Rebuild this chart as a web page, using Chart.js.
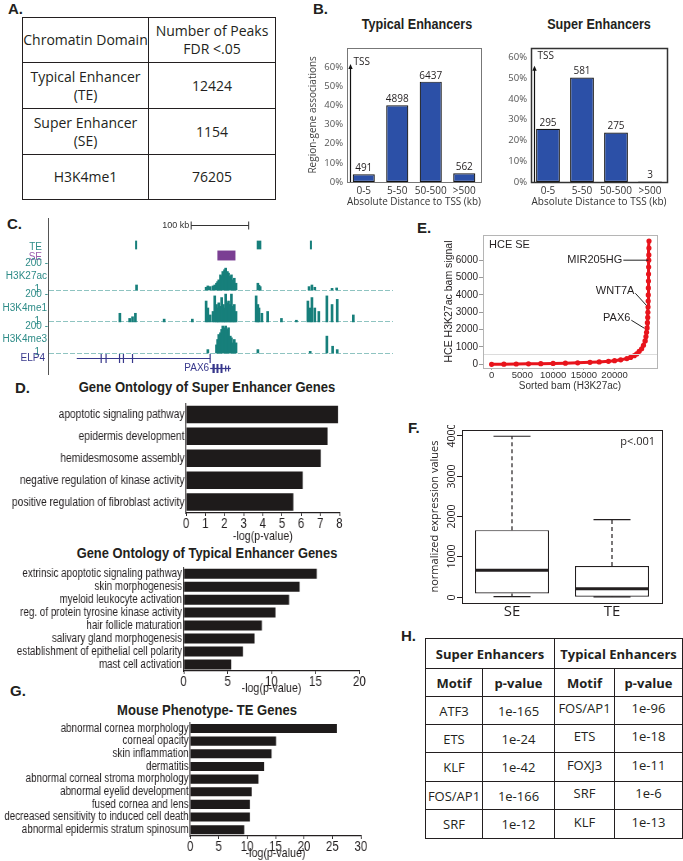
<!DOCTYPE html>
<html>
<head>
<meta charset="utf-8">
<title>Super enhancer figure</title>
<script src="https://cdn.jsdelivr.net/npm/chart.js@4.4.1/dist/chart.umd.min.js"></script>
<style>
  html, body { margin: 0; padding: 0; background: #fff; }
  body { position: relative; width: 683px; height: 861px; overflow: hidden; color: #231f20; }
  canvas { position: absolute; }
  canvas.narrow { transform: scaleX(0.82); transform-origin: 0 0; }
  .panel { position: absolute; font: bold 15px "Liberation Sans", Arial, sans-serif; line-height: 15px; }
  .title { position: absolute; white-space: nowrap;
           font: bold 15px "Liberation Sans", Arial, sans-serif; line-height: 1; }
  table { position: absolute; border-collapse: collapse; table-layout: fixed; }
  td { border: 1.5px solid #231f20; text-align: center; vertical-align: middle; padding: 0; white-space: nowrap; }
  #tableA td { font: 14px "Open Sans", sans-serif; line-height: 18px; }
  #tableH td { font: 13px "Open Sans", sans-serif; }
  #tableH tr.head td { font-weight: bold; }
</style>
</head>
<body>
<div class="panel" style="left:8px; top:1px">A.</div>
<div class="panel" style="left:313px; top:1px">B.</div>
<div class="panel" style="left:7px; top:216px">C.</div>
<div class="panel" style="left:15px; top:380px">D.</div>
<div class="panel" style="left:417px; top:220px">E.</div>
<div class="panel" style="left:408px; top:420px">F.</div>
<div class="panel" style="left:10px; top:683px">G.</div>
<div class="panel" style="left:401px; top:628px">H.</div>

<div class="title" style="left:417px; top:24px; font-size:14px; transform:translate(-50%,-50%) scaleX(0.9)">Typical Enhancers</div>
<div class="title" style="left:599px; top:24px; font-size:14px; transform:translate(-50%,-50%) scaleX(0.9)">Super Enhancers</div>
<div class="title" style="left:207px; top:386px; transform:translate(-50%,-50%) scaleX(0.87)">Gene Ontology of Super Enhancer Genes</div>
<div class="title" style="left:207px; top:552px; transform:translate(-50%,-50%) scaleX(0.86)">Gene Ontology of Typical Enhancer Genes</div>
<div class="title" style="left:207px; top:709px; transform:translate(-50%,-50%) scaleX(0.87)">Mouse Phenotype- TE Genes</div>

<table id="tableA" style="left:22px; top:17px; width:253px; height:182px"></table>
<table id="tableH" style="left:425px; top:638px; width:257px; height:200px"></table>

<canvas id="chartB1" width="188" height="170" style="left:300px; top:38px"></canvas>
<canvas id="chartB2" width="175" height="170" style="left:500px; top:38px"></canvas>
<canvas id="chartC" width="395" height="160" style="left:0px; top:215px"></canvas>
<canvas id="chartE" width="225" height="168" style="left:440px; top:228px"></canvas>
<canvas id="chartD1" class="narrow" width="421" height="150" style="left:0px; top:394px"></canvas>
<canvas id="chartD2" class="narrow" width="446" height="138" style="left:0px; top:558px"></canvas>
<canvas id="chartF" width="255" height="200" style="left:420px; top:425px"></canvas>
<canvas id="chartG" class="narrow" width="448" height="148" style="left:0px; top:713px"></canvas>

<script>
// ---------------- data ----------------
// A. peak counts
const domainRows = [['Typical Enhancer', '(TE)'], ['Super Enhancer', '(SE)'], ['H3K4me1']];
const domainPeaks = [12424, 1154, 76205];

// B. distance to TSS
const distanceBins = ['0-5', '5-50', '50-500', '>500'];
const typicalPct = [4.0, 40.0, 52.3, 4.5];
const typicalCounts = [491, 4898, 6437, 562];
const superPct = [25.6, 50.3, 23.8, 0.3];
const superCounts = [295, 581, 275, 3];
const pctTicks = [0, 10, 20, 30, 40, 50, 60];

// C. genome browser around PAX6 (positions in kb, signal 0-200)
const teRegions = [[101.5, 104.5], [313, 321], [405.5, 409]];
const seRegions = [[244.6, 276]];
const k27acKb  = [104, 225, 228, 232, 237, 240, 243, 245, 247, 250, 252, 254, 257, 259, 262, 264, 267, 269, 272, 274, 277, 315, 317, 319, 404, 409, 414, 444, 452];
const k27acVal = [37, 20, 30, 25, 30, 37, 50, 62, 75, 112, 100, 137, 150, 162, 137, 125, 100, 112, 75, 87, 50, 50, 35, 25, 25, 37, 20, 12, 15];
const me1Kb  = [75, 92, 97, 102, 152, 201, 225, 228, 232, 237, 240, 243, 245, 247, 250, 252, 255, 257, 259, 262, 264, 267, 269, 272, 274, 277, 312, 315, 317, 322, 332, 356, 382, 402, 406, 409, 414, 421, 435, 444, 453, 481];
const me1Val = [62, 25, 37, 62, 20, 20, 150, 100, 50, 75, 187, 125, 100, 137, 112, 175, 125, 100, 200, 137, 150, 125, 200, 112, 125, 75, 187, 125, 100, 62, 75, 25, 12, 150, 100, 175, 100, 75, 187, 125, 162, 50];
const me3Kb  = [228, 243, 245, 247, 250, 252, 254, 257, 259, 262, 264, 267, 269, 272, 274, 277, 315, 406, 435, 445, 453];
const me3Val = [25, 60, 100, 137, 150, 175, 200, 187, 200, 175, 187, 125, 112, 75, 100, 75, 25, 12, 125, 50, 25];
const elp4Span = [0, 232];
const elp4Exons = [42.5, 51, 74.4, 81.2, 97, 232];
const pax6Span = [232, 268];
const pax6Exons = [[236, 240], [243, 246], [250, 253]];
const pax6Ticks = [259, 264];
const scaleBarKb = [199, 299];

// D. gene ontology
const seGoTerms = ['apoptotic signaling pathway', 'epidermis development', 'hemidesmosome assembly',
  'negative regulation of kinase activity', 'positive regulation of fibroblast activity'];
const seGoLogP = [7.92, 7.38, 7.02, 6.08, 5.59];
const teGoTerms = ['extrinsic apoptotic signaling pathway', 'skin morphogenesis', 'myeloid leukocyte activation',
  'reg. of protein tyrosine kinase activity', 'hair follicle maturation', 'salivary gland morphogenesis',
  'establishment of epithelial cell polarity', 'mast cell activation'];
const teGoLogP = [15.15, 13.2, 12.0, 10.45, 8.9, 8.07, 6.74, 5.42];

// E. super enhancer ranking
const seRank = [0, 2000, 4000, 6000, 8000, 10000, 12000, 14000, 16000, 17500, 19000, 20000, 21000, 22000, 22600,
  23200, 23600, 24000, 24400, 24700, 24950, 25100, 25200, 25280, 25340, 25390, 25420, 25445, 25465, 25480,
  25495, 25510, 25525, 25540, 25555, 25570, 25585, 25600];
const seSignal = [0, 10, 20, 30, 40, 55, 70, 90, 115, 140, 175, 210, 260, 330, 400,
  500, 600, 750, 900, 1100, 1350, 1600, 1850, 2100, 2400, 2700, 3000, 3300, 3650, 4000,
  4400, 4800, 5200, 5600, 6000, 6300, 6700, 7100];
const rankTicks = [0, 5000, 10000, 15000, 20000];
const signalTicks = [0, 1000, 2000, 3000, 4000, 5000, 6000];
const seCutoff = 580;
const seGeneNames = ['MIR205HG', 'WNT7A', 'PAX6'];
const seGeneRank = [25490, 25170, 24840];
const seGeneSignal = [6000, 3400, 2080];

// F. expression box plot
const exprGroups = ['SE', 'TE'];
const exprMin = [10, 0];
const exprQ1 = [85, 5];
const exprMedian = [660, 205];
const exprQ3 = [1650, 765];
const exprMax = [3970, 1910];
const exprTicks = [0, 1000, 2000, 3000, 4000];

// G. mouse phenotype
const tePhenoTerms = ['abnormal cornea morphology', 'corneal opacity', 'skin inflammation', 'dermatitis',
  'abnormal corneal stroma morphology', 'abnormal eyelid development', 'fused cornea and lens',
  'decreased sensitivity to induced cell death', 'abnormal epidermis stratum spinosum'];
const tePhenoLogP = [25.8, 15.1, 14.3, 13.0, 12.0, 10.8, 10.5, 10.5, 9.5];

// H. motifs
const seMotifs = ['ATF3', 'ETS', 'KLF', 'FOS/AP1', 'SRF'];
const seMotifP = ['1e-165', '1e-24', '1e-42', '1e-166', '1e-12'];
const teMotifs = ['FOS/AP1', 'ETS', 'FOXJ3', 'SRF', 'KLF'];
const teMotifP = ['1e-96', '1e-18', '1e-11', '1e-6', '1e-13'];

// ---------------- setup ----------------
const FONT = '"Liberation Sans", Arial, sans-serif';
const FONT_REG = '"Open Sans", "Liberation Sans", sans-serif';
const INK = '#231f20';
const TEAL = '#177f7b';
const PURPLE = '#7b3f93';
const GENE = '#38388c';

Chart.defaults.font.family = FONT;
Chart.defaults.font.size = 11;
Chart.defaults.color = INK;
Chart.defaults.animation = false;
Chart.defaults.responsive = false;
Chart.defaults.devicePixelRatio = 1;
Chart.defaults.plugins.legend.display = false;
Chart.defaults.plugins.tooltip.enabled = false;

const fixedTicks = values => s => { s.ticks = values.map(v => ({ value: v })); };

// tables
const tableA = document.getElementById('tableA');
tableA.innerHTML = '<colgroup><col style="width:126px"><col style="width:127px"></colgroup>' +
  '<tr style="height:45px"><td>Chromatin Domain</td><td>Number of Peaks<br>FDR &lt;.05</td></tr>';
domainRows.forEach((lines, i) => {
  tableA.innerHTML += `<tr style="height:${i === 2 ? 45 : 46}px"><td>${lines.join('<br>')}</td><td>${domainPeaks[i]}</td></tr>`;
});

const tableH = document.getElementById('tableH');
let hRows = '<colgroup><col style="width:57px"><col style="width:72px"><col style="width:60px"><col style="width:68px"></colgroup>' +
  '<tr class="head" style="height:30px"><td colspan="2">Super Enhancers</td><td colspan="2">Typical Enhancers</td></tr>' +
  '<tr class="head" style="height:28px"><td>Motif</td><td>p-value</td><td>Motif</td><td>p-value</td></tr>';
const hHeights = [28, 28, 29, 28, 29];
seMotifs.forEach((m, i) => {
  hRows += `<tr style="height:${hHeights[i]}px"><td>${m}</td><td>${seMotifP[i]}</td>` +
    `<td style="padding-bottom:5px">${teMotifs[i]}</td><td style="padding-bottom:5px">${teMotifP[i]}</td></tr>`;
});
tableH.innerHTML = hRows;

// ---------------- shared plugins ----------------
const framePlugin = {
  id: 'frame',
  afterDraw(chart, args, opts) {
    const {ctx, chartArea: a} = chart;
    ctx.save();
    ctx.strokeStyle = opts.color || INK;
    ctx.lineWidth = opts.width || 1;
    ctx.strokeRect(Math.round(a.left) + 0.5, Math.round(a.top) + 0.5,
      Math.round(a.right - a.left), Math.round(a.bottom - a.top));
    ctx.restore();
  }
};

function line(ctx, x0, y0, x1, y1) {
  ctx.beginPath(); ctx.moveTo(x0, y0); ctx.lineTo(x1, y1); ctx.stroke();
}

// ---------------- B. distance charts ----------------
function makeCountPlugin(counts) {
  return {
    id: 'counts',
    afterDatasetsDraw(chart) {
      const ctx = chart.ctx;
      ctx.save();
      ctx.font = '10px ' + FONT_REG;
      ctx.fillStyle = INK; ctx.textAlign = 'center'; ctx.textBaseline = 'bottom';
      chart.getDatasetMeta(0).data.forEach((bar, i) => ctx.fillText(counts[i], bar.x, bar.y - 1));
      ctx.restore();
    }
  };
}

function makeTssPlugin(tipValue, textValue) {
  return {
    id: 'tss',
    afterDatasetsDraw(chart) {
      const {ctx, chartArea: a, scales: {y}} = chart;
      const x = Math.round(a.left) + 3.5, tip = y.getPixelForValue(tipValue);
      ctx.save();
      ctx.strokeStyle = '#111'; ctx.fillStyle = '#111'; ctx.lineWidth = 1.2;
      line(ctx, x, a.bottom, x, tip + 3);
      ctx.beginPath(); ctx.moveTo(x, tip); ctx.lineTo(x - 2.2, tip + 5); ctx.lineTo(x + 2.2, tip + 5); ctx.closePath(); ctx.fill();
      ctx.font = '10px ' + FONT_REG; ctx.fillStyle = INK;
      ctx.textAlign = 'left'; ctx.textBaseline = 'middle';
      ctx.fillText('TSS', x + 3, y.getPixelForValue(textValue));
      ctx.restore();
    }
  };
}

function distanceChart(id, pct, counts, cfg) {
  new Chart(document.getElementById(id), {
    type: 'bar',
    data: {
      labels: distanceBins,
      datasets: [{
        data: pct, backgroundColor: '#2c50a7', borderColor: '#141414', borderWidth: 1.2,
        borderSkipped: false, barPercentage: cfg.barPct, categoryPercentage: 1
      }]
    },
    options: {
      layout: { padding: cfg.padding },
      scales: {
        x: {
          grid: { display: false, drawTicks: false }, border: { display: false },
          ticks: { font: { size: 10, family: FONT_REG }, color: '#333', padding: 3, maxRotation: 0, autoSkip: false },
          title: { display: true, text: 'Absolute Distance to TSS (kb)', font: { size: 10, family: FONT_REG }, color: '#333', padding: 0 },
          afterFit: s => { s.height = 26; }
        },
        y: {
          min: 0, max: cfg.yMax,
          grid: { display: false, drawTicks: false }, border: { display: false },
          ticks: { callback: v => v + '%', font: { size: 9.5, family: FONT_REG }, color: '#555', padding: 4 },
          afterBuildTicks: fixedTicks(pctTicks),
          title: { display: cfg.yTitle, text: 'Region-gene associations', font: { size: 10, family: FONT_REG }, color: '#444', padding: 0 },
          afterFit: s => { s.width = cfg.yWidth; }
        }
      },
      plugins: { frame: { color: cfg.frameColor, width: cfg.frameWidth } }
    },
    plugins: [framePlugin, makeCountPlugin(counts), makeTssPlugin(cfg.tssTip, cfg.tssText)]
  });
}

distanceChart('chartB1', typicalPct, typicalCounts, {
  padding: { left: 7, top: 5, right: 7, bottom: 0 }, yWidth: 40, yMax: 70, yTitle: true,
  barPct: 0.66, frameColor: '#777', frameWidth: 1, tssTip: 61.5, tssText: 62.5
});
distanceChart('chartB2', superPct, superCounts, {
  padding: { left: 5, top: 5, right: 8, bottom: 0 }, yWidth: 26, yMax: 64.7, yTitle: false,
  barPct: 0.7, frameColor: '#333', frameWidth: 1.5, tssTip: 56, tssText: 60.5
});

// ---------------- C. genome tracks ----------------
const signalAxes = ['yK27', 'yMe1', 'yMe3'];
const signalNames = ['H3K27ac', 'H3K4me1', 'H3K4me3'];

function trackAxis(weight, stackWeight, min, max) {
  return { type: 'linear', display: false, position: 'left', stack: 'tracks', stackWeight, weight, min, max };
}
function signalSet(kb, val, axis) {
  return {
    data: kb.map((x, i) => ({ x, y: val[i] })), yAxisID: axis,
    backgroundColor: TEAL, barThickness: 2, grouped: false
  };
}

const genomePlugin = {
  id: 'genome',
  beforeDatasetsDraw(chart) {
    const {ctx, chartArea: a, scales: s} = chart;
    ctx.save();
    ctx.strokeStyle = '#8fc4c1'; ctx.lineWidth = 1; ctx.setLineDash([5, 2]);
    signalAxes.forEach(id => {
      const y = Math.round(s[id].getPixelForValue(3)) + 0.5;
      line(ctx, a.left + 1, y, a.right, y);
    });
    ctx.restore();
  },
  afterDatasetsDraw(chart) {
    const {ctx, chartArea: a, scales: s} = chart;
    const px = v => s.x.getPixelForValue(v);
    ctx.save();
    // left rule
    ctx.strokeStyle = '#555'; ctx.lineWidth = 1;
    const lx = Math.round(a.left) + 0.5;
    line(ctx, lx, a.top - 19, lx, a.bottom);
    // scale bar
    const sy = Math.round(a.top - 12) + 0.5;
    const sx0 = px(scaleBarKb[0]), sx1 = px(scaleBarKb[1]);
    ctx.strokeStyle = '#333';
    line(ctx, sx0, sy, sx1, sy);
    line(ctx, sx0, sy - 4, sx0, sy + 4);
    line(ctx, sx1, sy - 4, sx1, sy + 4);
    ctx.font = '9px ' + FONT; ctx.fillStyle = '#333';
    ctx.textAlign = 'right'; ctx.textBaseline = 'middle';
    ctx.fillText((scaleBarKb[1] - scaleBarKb[0]) + ' kb', sx0 - 2, sy);
    // TE / SE blocks
    const block = (regions, axis, lo, hi, color) => {
      ctx.fillStyle = color;
      regions.forEach(r => {
        const x0 = px(r[0]), w = Math.max(2, px(r[1]) - x0);
        const yTop = s[axis].getPixelForValue(hi), yBot = s[axis].getPixelForValue(lo);
        ctx.fillRect(x0, yTop, w, yBot - yTop);
      });
    };
    block(teRegions, 'yTE', 0.05, 0.72, TEAL);
    block(seRegions, 'ySE', 0.05, 0.95, PURPLE);
    // track labels
    ctx.font = '10px ' + FONT;
    ctx.fillStyle = '#2e8c88';
    ctx.fillText('TE', a.left - 6, s.yTE.getPixelForValue(0.25));
    ctx.fillStyle = '#9a5aab';
    ctx.fillText('SE', a.left - 6, s.ySE.getPixelForValue(0.36));
    ctx.fillStyle = '#2e8c88';
    signalAxes.forEach((id, i) => {
      const sc = s[id];
      ctx.fillText('200 -', a.left, sc.getPixelForValue(200));
      ctx.fillText(signalNames[i], a.left - 1, sc.getPixelForValue(100));
      ctx.fillText('1', a.left - 8, sc.getPixelForValue(2));
    });
    // genes
    ctx.strokeStyle = GENE; ctx.fillStyle = GENE; ctx.lineWidth = 1.2;
    const gy1 = Math.round(s.yGene.getPixelForValue(0.85)) + 0.5;
    line(ctx, px(elp4Span[0]), gy1, px(elp4Span[1]), gy1);
    elp4Exons.forEach(k => line(ctx, px(k), gy1 - 4.5, px(k), gy1 + 4.5));
    ctx.fillText('ELP4', a.left - 3, gy1);
    const gy2 = Math.round(s.yGene.getPixelForValue(0.35)) + 0.5;
    line(ctx, px(pax6Span[0]), gy2, px(pax6Span[1]), gy2);
    pax6Exons.forEach(e => ctx.fillRect(px(e[0]), gy2 - 4.5, Math.max(2, px(e[1]) - px(e[0])), 9));
    pax6Ticks.forEach(k => line(ctx, px(k), gy2 - 3, px(k), gy2 + 3));
    ctx.fillText('PAX6', px(pax6Span[0]) - 1, gy2);
    ctx.restore();
  }
};

new Chart(document.getElementById('chartC'), {
  type: 'bar',
  data: {
    datasets: [
      signalSet(k27acKb, k27acVal, 'yK27'),
      signalSet(me1Kb, me1Val, 'yMe1'),
      signalSet(me3Kb, me3Val, 'yMe3')
    ]
  },
  options: {
    layout: { padding: { left: 48, top: 22, right: 2, bottom: 0 } },
    scales: {
      x: { type: 'linear', min: 0, max: 500, display: false },
      yTE: trackAxis(6, 13, 0, 1),
      ySE: trackAxis(5, 11, 0, 1),
      yK27: trackAxis(4, 31, -15, 215),
      yMe1: trackAxis(3, 32, -15, 215),
      yMe3: trackAxis(2, 31, -15, 215),
      yGene: trackAxis(1, 20, 0, 1)
    }
  },
  plugins: [genomePlugin]
});

// ---------------- D / G. term bar charts (canvas is squeezed 0.82 horizontally) ----------------
function termChart(id, terms, values, cfg) {
  new Chart(document.getElementById(id), {
    type: 'bar',
    data: {
      labels: terms,
      datasets: [{ data: values, backgroundColor: '#1e1b1b', barPercentage: cfg.barPct, categoryPercentage: 1 }]
    },
    options: {
      indexAxis: 'y',
      layout: { padding: cfg.padding },
      scales: {
        y: {
          grid: { display: false, drawTicks: false }, border: { display: true, color: INK, width: 1.2 },
          ticks: { font: { size: cfg.labelSize }, color: INK, padding: 2, autoSkip: false },
          afterFit: s => { s.width = cfg.yWidth; }
        },
        x: {
          min: 0, max: cfg.xMax,
          grid: { display: true, drawOnChartArea: false, drawTicks: true, tickLength: 3, color: INK },
          border: { display: true, color: INK, width: 1.2 },
          ticks: { stepSize: cfg.step, font: { size: 14 }, color: INK, padding: 0, maxRotation: 0 },
          title: { display: true, text: '-log(p-value)', font: { size: 13 }, color: INK, padding: 0 },
          afterFit: s => { s.height = cfg.xHeight; }
        }
      }
    }
  });
}

termChart('chartD1', seGoTerms, seGoLogP, {
  padding: { left: 0, top: 4, right: 7, bottom: 0 }, yWidth: 227, xHeight: 31,
  xMax: 8, step: 1, barPct: 0.8, labelSize: 12.5
});
termChart('chartD2', teGoTerms, teGoLogP, {
  padding: { left: 0, top: 4, right: 7, bottom: 0 }, yWidth: 224, xHeight: 25,
  xMax: 20, step: 5, barPct: 0.77, labelSize: 12
});
termChart('chartG', tePhenoTerms, tePhenoLogP, {
  padding: { left: 0, top: 4, right: 8, bottom: 0 }, yWidth: 232, xHeight: 25,
  xMax: 30, step: 5, barPct: 0.72, labelSize: 12
});

// ---------------- E. ranked signal ----------------
const seNotePlugin = {
  id: 'seNotes',
  afterDatasetsDraw(chart) {
    const {ctx, chartArea: a, scales: {x, y}} = chart;
    ctx.save();
    ctx.strokeStyle = '#dcdcdc'; ctx.lineWidth = 1;
    const cy = Math.round(y.getPixelForValue(seCutoff)) + 0.5;
    line(ctx, a.left, cy, a.right, cy);
    ctx.font = '11px ' + FONT; ctx.fillStyle = INK;
    ctx.textAlign = 'left'; ctx.textBaseline = 'middle';
    ctx.fillText('HCE SE', a.left + 6, a.top + 10);
    const offsets = [[-25, 0], [-11, -12], [-13, -8]];
    ctx.strokeStyle = '#222'; ctx.textAlign = 'right';
    seGeneNames.forEach((name, i) => {
      const ex = x.getPixelForValue(seGeneRank[i]), ey = y.getPixelForValue(seGeneSignal[i]);
      const sx = ex + offsets[i][0], sy = ey + offsets[i][1];
      line(ctx, sx, sy, ex, ey);
      ctx.fillText(name, sx - 1, sy - (i === 0 ? 0 : 2));
    });
    ctx.restore();
  }
};

new Chart(document.getElementById('chartE'), {
  type: 'line',
  data: {
    datasets: [{
      data: seRank.map((r, i) => ({ x: r, y: seSignal[i] })),
      borderColor: '#e8141c', backgroundColor: '#e8141c', borderWidth: 3,
      pointRadius: 2.6, pointBorderWidth: 0, tension: 0
    }]
  },
  options: {
    layout: { padding: { left: 3, top: 7, right: 8, bottom: 4 } },
    scales: {
      x: {
        type: 'linear', min: -1400, max: 26900,
        grid: { display: true, drawOnChartArea: false, tickLength: 2, color: '#aaa' }, border: { display: false },
        ticks: { font: { size: 9.5 }, color: '#333', padding: 0, maxRotation: 0, autoSkip: false, callback: v => String(v) },
        afterBuildTicks: fixedTicks(rankTicks),
        title: { display: true, text: 'Sorted bam (H3K27ac)', font: { size: 10 }, color: '#333', padding: 0 },
        afterFit: s => { s.height = 24; }
      },
      y: {
        min: -210, max: 7450,
        grid: { display: true, drawOnChartArea: false, tickLength: 4, color: '#999' }, border: { display: false },
        ticks: { font: { size: 10 }, color: INK, padding: 1, autoSkip: false, callback: v => String(v) },
        afterBuildTicks: fixedTicks(signalTicks),
        title: { display: true, text: 'HCE H3K27ac bam signal', font: { size: 10.5 }, color: INK, padding: 0 },
        afterFit: s => { s.width = 40; }
      }
    },
    plugins: { frame: { color: '#b5b5b5', width: 1 } }
  },
  plugins: [framePlugin, seNotePlugin]
});

// ---------------- F. box plot ----------------
const boxPlugin = {
  id: 'boxes',
  afterDatasetsDraw(chart) {
    const {ctx, chartArea: a, scales: {y}} = chart;
    ctx.save();
    ctx.strokeStyle = INK; ctx.fillStyle = INK;
    chart.getDatasetMeta(0).data.forEach((bar, i) => {
      const half = bar.width / 2, cap = bar.width / 4;
      const yMin = y.getPixelForValue(exprMin[i]), yQ1 = y.getPixelForValue(exprQ1[i]);
      const yMed = y.getPixelForValue(exprMedian[i]), yQ3 = y.getPixelForValue(exprQ3[i]);
      const yMax = y.getPixelForValue(exprMax[i]);
      ctx.lineWidth = 1.2; ctx.setLineDash([4, 3]);
      line(ctx, bar.x, yQ3, bar.x, yMax);
      if (exprMin[i] < exprQ1[i]) line(ctx, bar.x, yQ1, bar.x, yMin);
      ctx.setLineDash([]);
      line(ctx, bar.x - cap, yMax, bar.x + cap, yMax);
      line(ctx, bar.x - cap, yMin, bar.x + cap, yMin);
      ctx.lineWidth = 3;
      line(ctx, bar.x - half, yMed, bar.x + half, yMed);
    });
    // rotated y tick labels, R style
    ctx.lineWidth = 1;
    ctx.font = '10.5px ' + FONT_REG; ctx.textAlign = 'center'; ctx.textBaseline = 'middle';
    y.ticks.forEach(t => {
      const py = Math.round(y.getPixelForValue(t.value)) + 0.5;
      line(ctx, a.left - 5, py, a.left, py);
      ctx.save();
      ctx.translate(a.left - 10, py);
      ctx.rotate(-Math.PI / 2);
      ctx.fillText(String(t.value), 0, 0);
      ctx.restore();
    });
    ctx.font = '11px ' + FONT_REG; ctx.textAlign = 'right';
    ctx.fillText('p<.001', a.right - 7, a.top + 12);
    ctx.restore();
  }
};

new Chart(document.getElementById('chartF'), {
  type: 'bar',
  data: {
    labels: exprGroups,
    datasets: [{
      data: exprQ1.map((q, i) => [q, exprQ3[i]]),
      backgroundColor: '#fff', borderColor: INK, borderWidth: 1.2, borderSkipped: false,
      barPercentage: 0.74, categoryPercentage: 1
    }]
  },
  options: {
    layout: { padding: { left: 8, top: 5, right: 13, bottom: 2 } },
    scales: {
      x: {
        grid: { display: false, drawTicks: false }, border: { display: false },
        ticks: { font: { size: 15, family: FONT_REG }, color: INK, padding: 0 },
        afterFit: s => { s.height = 20; }
      },
      y: {
        min: -150, max: 4125,
        grid: { display: false, drawTicks: false }, border: { display: false },
        ticks: { display: false },
        afterBuildTicks: fixedTicks(exprTicks),
        title: { display: true, text: 'normalized expression values', font: { size: 11, family: FONT_REG }, color: INK, padding: 0 },
        afterFit: s => { s.width = 34; }
      }
    },
    plugins: { frame: { color: INK, width: 1 } }
  },
  plugins: [framePlugin, boxPlugin]
});
</script>
</body>
</html>
